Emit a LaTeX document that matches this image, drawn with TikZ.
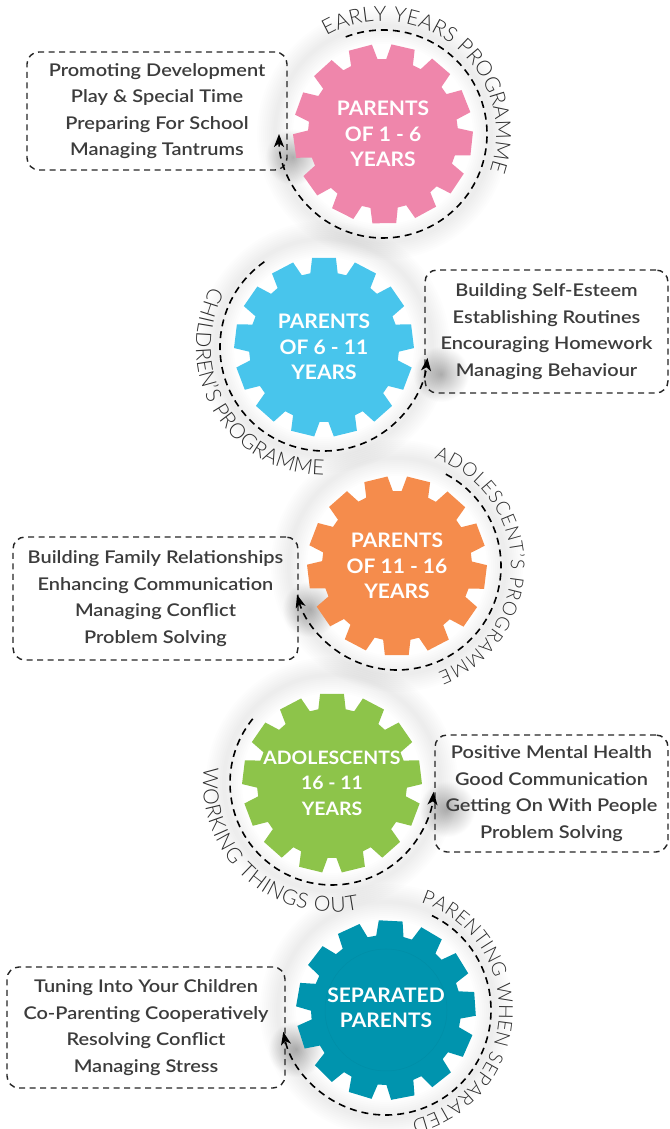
\documentclass[tikz,border=0pt]{standalone}
\usepackage{fontspec}
\usetikzlibrary{arrows.meta,decorations.text}
\setmainfont{Lato}
\newfontfamily\boxfont{Lato Semibold}[FakeStretch=1.14]
\newfontfamily\gearfont{Lato Bold}[FakeStretch=1.05]
\newfontfamily\arcfont{Lato Light}

\definecolor{gearpink}{RGB}{239,134,171}
\definecolor{gearblue}{RGB}{72,197,236}
\definecolor{gearorange}{RGB}{245,140,76}
\definecolor{geargreen}{RGB}{141,196,74}
\definecolor{gearteal}{RGB}{0,148,174}
\definecolor{inktext}{RGB}{60,60,60}
\definecolor{arcink}{RGB}{45,45,45}

\newcommand\arctype[1]{\arcfont\fontsize{#1}{#1}\selectfont\color{arcink}}

% a 13-tooth cog: #1 centre, #2 rotation of the first tooth, #3 colour
\newcommand\cog[3]{%
  \fill[#3] ([shift={({#2-10.5}:75)}]#1)
  \foreach \k in {0,...,12}{
    -- ([shift={({#2+\k*27.6923-10.5}:75)}]#1)
    -- ([shift={({#2+\k*27.6923-7.6}:90)}]#1)
    -- ([shift={({#2+\k*27.6923+7.6}:90)}]#1)
    -- ([shift={({#2+\k*27.6923+10.5}:75)}]#1)
  } -- cycle;}

% soft grey ring around a cycle
\newcommand\halo[1]{%
  \foreach \w in {4,8,...,36}{\draw[black, opacity=0.008, line width=\w pt] (#1) circle[radius=108];}}

\tikzset{
  infobox/.style={draw=black!85, line width=1.4pt, dash pattern=on 6pt off 4.5pt,
    rounded corners=12pt, align=center, text=inktext, inner sep=0pt,
    font=\boxfont\fontsize{17.5}{26.5}\selectfont},
  geartext/.style={align=center, text=white, inner sep=0pt,
    font=\gearfont\fontsize{20}{25.5}\selectfont},
  cycleline/.style={line width=1.6pt, dash pattern=on 7pt off 5pt,
    -{Stealth[length=13pt,width=10pt,inset=3.5pt]}},
  tipshade/.style={inner color=black!30, outer color=white},
}

\begin{document}
\begin{tikzpicture}[x=1pt,y=1pt]
\useasboundingbox (0,0) rectangle (669,1129);
\fill[white] (0,0) rectangle (669,1129);

% gear centres
\coordinate (G1) at (383,995);
\coordinate (G2) at (324,782);
\coordinate (G3) at (397,563);
\coordinate (G4) at (332,346);
\coordinate (G5) at (386,119);

% shading behind the arrow heads
\shade[tipshade] (293,972) circle[radius=28];
\shade[tipshade] (441,755) circle[radius=28];
\shade[tipshade] (310,520) circle[radius=28];
\shade[tipshade] (447,320) circle[radius=28];
\shade[tipshade] (296,80) circle[radius=28];

\halo{G1}\halo{G2}\halo{G3}\halo{G4}\halo{G5}

% cogs
\cog{G1}{77}{gearpink}
\cog{G2}{90}{gearblue}
\cog{G3}{76}{gearorange}
\cog{G4}{90}{geargreen}
\cog{G5}{87}{gearteal}
\draw[gearteal!96!black, line width=0.5pt] (G5) circle[radius=61];

\node[geartext] (T1) at (G1) {PARENTS\\OF 1 - 6\\YEARS};
\node[geartext] (T2) at (G2) {PARENTS\\OF 6 - 11\\YEARS};
\node[geartext] (T3) at (G3) {PARENTS\\OF 11 - 16\\YEARS};
\node[geartext, font=\gearfont\fontsize{18.5}{25.5}\selectfont] (T4) at (G4) {ADOLESCENTS\\16 - 11\\YEARS};
\node[geartext] (T5) at ([yshift=2]G5) {SEPARATED\\PARENTS};

% topic boxes
\node[infobox, minimum width=260pt, minimum height=118pt] (B1) at (157,1018)
  {Promoting Development\\Play \& Special Time\\Preparing For School\\Managing Tantrums};
\node[infobox, minimum width=243pt, minimum height=123pt] (B2) at (546.5,797.5)
  {Building Self-Esteem\\Establishing Routines\\Encouraging Homework\\Managing Behaviour};
\node[infobox, minimum width=285pt, minimum height=123pt] (B3) at (155.5,530.5)
  {Building Family Relationships\\Enhancing Communication\\Managing Conflict\\Problem Solving};
\node[infobox, minimum width=233pt, minimum height=117pt] (B4) at (551.5,335.5)
  {Positive Mental Health\\Good Communication\\Getting On With People\\Problem Solving};
\node[infobox, minimum width=278pt, minimum height=121pt] (B5) at (146,101.5)
  {Tuning Into Your Children\\Co-Parenting Cooperatively\\Resolving Conflict\\Managing Stress};

% dashed cycles ending in arrows at the boxes
\draw[cycleline] ([shift={(111:104)}]G1) arc[start angle=111, end angle=-180, radius=104];
\draw[cycleline] ([shift={(125:104)}]G2) arc[start angle=125, end angle=354, radius=104];
\draw[cycleline] ([shift={(62:104)}]G3) arc[start angle=62, end angle=-164, radius=104];
\draw[cycleline] ([shift={(141:102)}]G4) arc[start angle=141, end angle=355, radius=102];
\draw[cycleline] ([shift={(64:105)}]G5) arc[start angle=64, end angle=-168, radius=105];

% programme names along the cycles
\path[decorate, decoration={text along path, text align=fit to path,
  text={|\arctype{21}|EARLY YEARS PROGRAMME}}]
  ([shift={(120:113)}]G1) arc[start angle=120, end angle=-19, radius=113];
\path[decorate, decoration={text along path, text align=fit to path,
  text={|\arctype{21}|CHILDREN’S PROGRAMME}}]
  ([shift={(152:128)}]G2) arc[start angle=152, end angle=270, radius=128];
\path[decorate, decoration={text along path, text align=fit to path,
  text={|\arctype{19}|ADOLESCENT’S PROGRAMME}}]
  ([shift={(71:114)}]G3) arc[start angle=71, end angle=-69, radius=114];
\path[decorate, decoration={text along path, text align=fit to path,
  text={|\arctype{21}|WORKING THINGS OUT}}]
  ([shift={(173:129)}]G4) arc[start angle=173, end angle=282, radius=129];
\path[decorate, decoration={text along path, text align=fit to path,
  text={|\arctype{19.5}|PARENTING WHEN SEPARATED}}]
  ([shift={(72:113)}]G5) arc[start angle=72, end angle=-77, radius=113];
\end{tikzpicture}
\end{document}
